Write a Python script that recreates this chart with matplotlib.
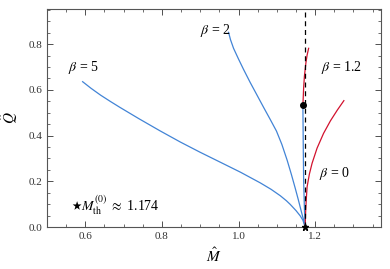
import matplotlib
matplotlib.use("Agg")
import matplotlib.pyplot as plt
from matplotlib.ticker import MultipleLocator, FormatStrFormatter

# === DADOS ===
M_TH = 1.174

b5_M = [0.593, 0.615, 0.64, 0.665, 0.69, 0.74, 0.795, 0.848, 0.90, 0.952, 1.005, 1.057, 1.085, 1.109, 1.125, 1.135, 1.150, 1.161, 1.168, 1.174]
b5_Q = [0.636, 0.607, 0.577, 0.550, 0.524, 0.474, 0.421, 0.372, 0.327, 0.284, 0.240, 0.193, 0.165, 0.137, 0.115, 0.099, 0.072, 0.049, 0.030, 0.0]

b2_M = [0.974, 0.979, 0.987, 1.000, 1.013, 1.030, 1.048, 1.065, 1.083, 1.099, 1.113, 1.127, 1.138, 1.148, 1.156, 1.163, 1.169, 1.174]
b2_Q = [0.852, 0.820, 0.782, 0.735, 0.690, 0.634, 0.578, 0.525, 0.470, 0.420, 0.362, 0.292, 0.230, 0.170, 0.120, 0.074, 0.036, 0.0]

b12_blue_M = [1.174, 1.172, 1.170, 1.169, 1.168]
b12_blue_Q = [0.0, 0.08, 0.2, 0.35, 0.534]
b12_red_M = [1.168, 1.169, 1.170, 1.172, 1.176, 1.179, 1.183]
b12_red_Q = [0.534, 0.57, 0.61, 0.66, 0.72, 0.752, 0.782]

b0_M = [1.174, 1.175, 1.177, 1.179, 1.185, 1.192, 1.205, 1.222, 1.240, 1.258, 1.275]
b0_Q = [0.0, 0.06, 0.125, 0.176, 0.232, 0.279, 0.345, 0.410, 0.465, 0.512, 0.553]

# === ESTILO ===
plt.rcParams['font.family'] = 'serif'
plt.rcParams['font.serif'] = ['Liberation Serif', 'DejaVu Serif']
plt.rcParams['mathtext.fontset'] = 'stix'

AZUL = '#4284d6'
VERMELHO = '#d2122e'

fig = plt.figure(figsize=(3.9, 2.69), dpi=100)
ax = fig.add_axes([0.1205, 0.156, 0.8565, 0.8105])

ax.plot(b5_M, b5_Q, color=AZUL, lw=0.9)
ax.plot(b2_M, b2_Q, color=AZUL, lw=0.9)
ax.plot(b12_blue_M, b12_blue_Q, color=AZUL, lw=0.9)
ax.plot(b12_red_M, b12_red_Q, color=VERMELHO, lw=0.9)
ax.plot(b0_M, b0_Q, color=VERMELHO, lw=0.9)

ax.axvline(M_TH, color='black', ls=(0, (4, 3)), lw=0.9)
ax.plot([b12_red_M[0]], [b12_red_Q[0]], 'o', color='black', ms=4, zorder=5)
ax.plot([M_TH], [0.0], '*', color='black', ms=5, clip_on=False, zorder=6)

# rótulos
ax.text(0.595, 0.70, r'$\beta$ = 5', fontsize=10, ha='center', va='center')
ax.text(0.939, 0.862, r'$\beta$ = 2', fontsize=10, ha='center', va='center')
ax.text(1.27, 0.70, r'$\beta$ = 1.2', fontsize=10, ha='center', va='center')
ax.text(1.249, 0.235, r'$\beta$ = 0', fontsize=10, ha='center', va='center')
ax.text(0.563, 0.094, r'$\bigstar$', fontsize=8.5, ha='left', va='center')
ax.text(0.59, 0.094, r'$M_{\rm th}^{(0)}$ $\approx$ 1.174', fontsize=10, ha='left', va='center')

ax.set_xlim(0.5, 1.372)
ax.set_ylim(0.0, 0.954)
ax.xaxis.set_major_locator(MultipleLocator(0.2))
ax.xaxis.set_minor_locator(MultipleLocator(0.05))
ax.yaxis.set_major_locator(MultipleLocator(0.2))
ax.yaxis.set_minor_locator(MultipleLocator(0.05))
ax.tick_params(which='both', direction='in', top=True, right=True, labelsize=8, colors='#333333')
ax.tick_params(which='major', length=4, width=0.6)
ax.tick_params(which='minor', length=2, width=0.5)
ax.xaxis.set_major_formatter(FormatStrFormatter('%.1f'))
ax.yaxis.set_major_formatter(FormatStrFormatter('%.1f'))
for s in ax.spines.values():
    s.set_color('#555555')
    s.set_linewidth(0.8)

ax.set_xlabel(r'$\hat{M}$', fontsize=11, labelpad=4)
ax.set_ylabel(r'$\hat{Q}$', fontsize=11, labelpad=6)

fig.savefig('out.png', dpi=100)
